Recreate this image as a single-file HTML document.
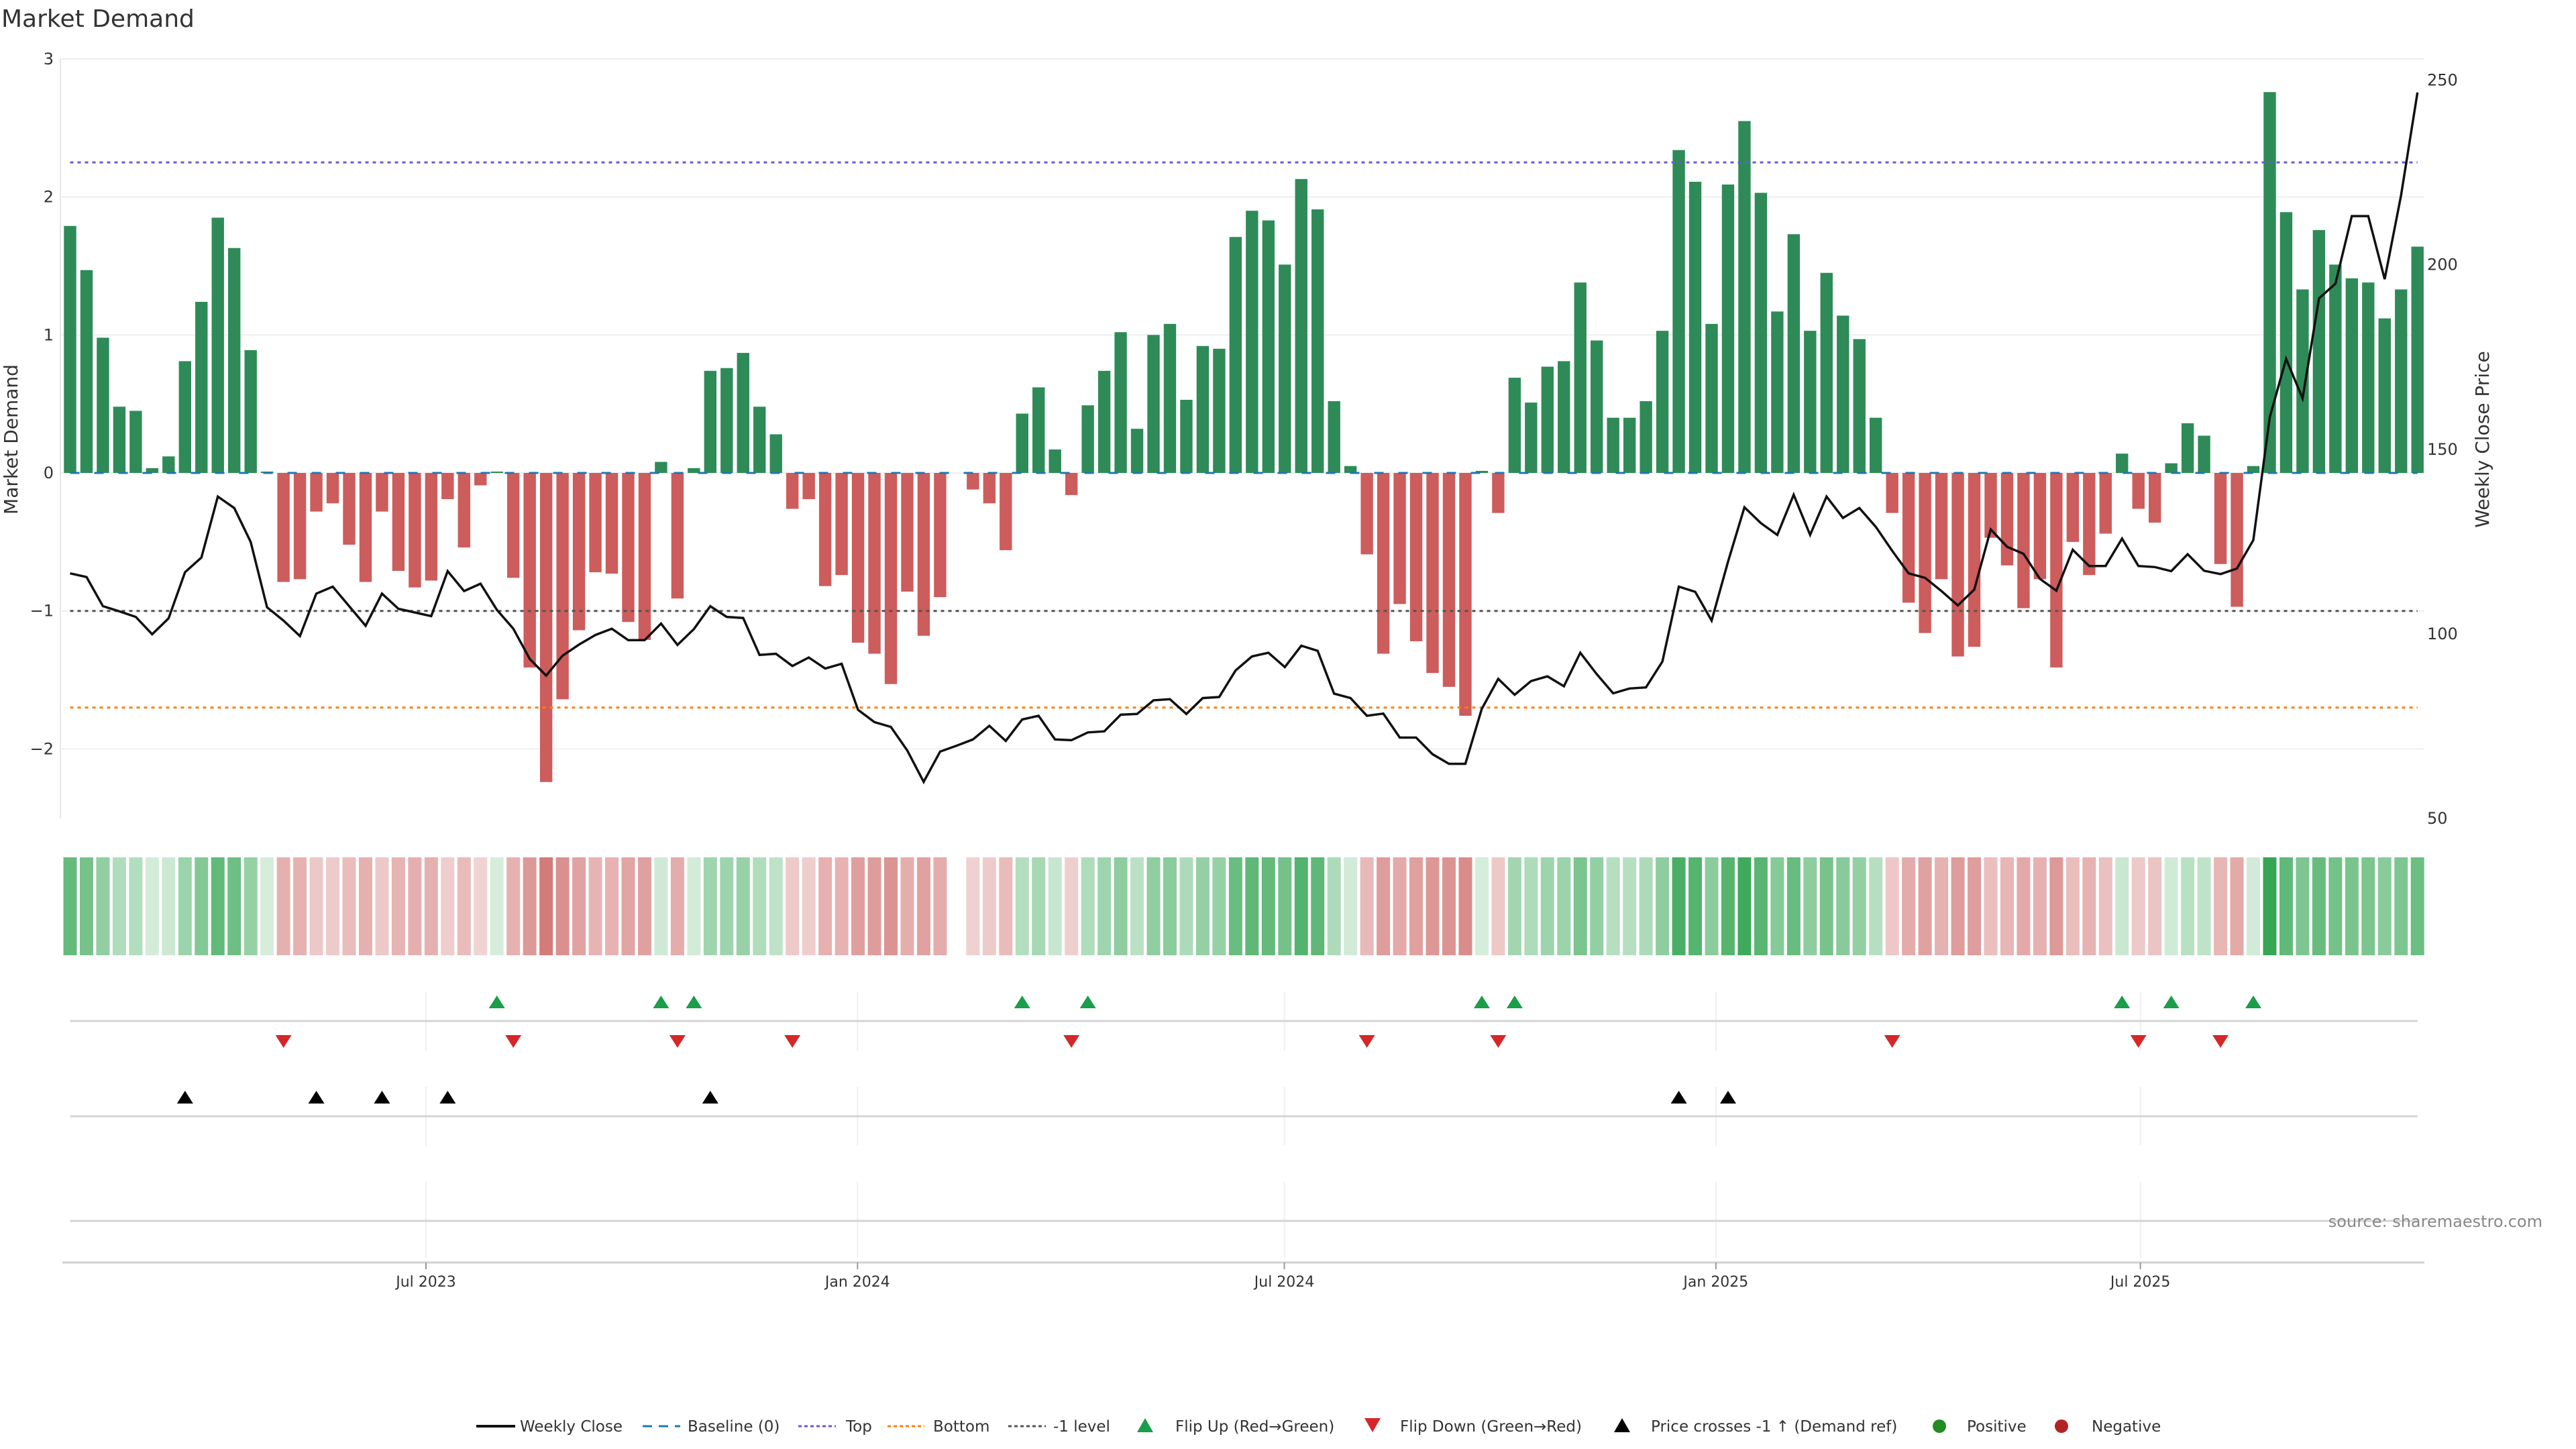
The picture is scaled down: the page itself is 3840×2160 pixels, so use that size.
<!DOCTYPE html>
<html><head><meta charset="utf-8"><title>Market Demand</title>
<style>
html,body{margin:0;padding:0;background:#fff;}
svg{display:block;font-family:"DejaVu Sans","Liberation Sans",sans-serif;}
</style></head>
<body>
<svg id="chart" width="3840" height="2160" viewBox="0 0 3840 2160" xmlns="http://www.w3.org/2000/svg">
<text x="2" y="40" font-size="36" fill="#333">Market Demand</text>
<g id="main"></g>
<g id="heat"></g>
<g id="markers"></g>
<g id="xaxis"></g>
<g id="legend"></g>
<text x="3790" y="1829" font-size="24" fill="#888" text-anchor="end">source: sharemaestro.com</text>
</svg>
<script>
const demand = [1.79,1.47,0.98,0.48,0.45,0.035,0.12,0.81,1.24,1.85,
1.63,0.89,0.01,-0.79,-0.77,-0.28,-0.22,-0.52,-0.79,-0.28,
-0.71,-0.83,-0.78,-0.19,-0.54,-0.09,0.01,-0.76,-1.41,-2.24,
-1.64,-1.14,-0.72,-0.73,-1.08,-1.21,0.08,-0.91,0.035,0.74,
0.76,0.87,0.48,0.28,-0.26,-0.19,-0.82,-0.74,-1.23,-1.31,
-1.53,-0.86,-1.18,-0.90,0,-0.12,-0.22,-0.56,0.43,0.62,
0.17,-0.16,0.49,0.74,1.02,0.32,1.00,1.08,0.53,0.92,
0.90,1.71,1.90,1.83,1.51,2.13,1.91,0.52,0.05,-0.59,
-1.31,-0.95,-1.22,-1.45,-1.55,-1.76,0.015,-0.29,0.69,0.51,
0.77,0.81,1.38,0.96,0.40,0.40,0.52,1.03,2.34,2.11,
1.08,2.09,2.55,2.03,1.17,1.73,1.03,1.45,1.14,0.97,
0.40,-0.29,-0.94,-1.16,-0.77,-1.33,-1.26,-0.47,-0.67,-0.98,
-0.77,-1.41,-0.50,-0.74,-0.44,0.14,-0.26,-0.36,0.07,0.36,
0.27,-0.66,-0.97,0.05,2.76,1.89,1.33,1.76,1.51,1.41,
1.38,1.12,1.33,1.64];
const price = [116.4,115.4,107.5,106.1,104.6,99.9,104.2,116.7,120.7,137.2,
134.1,124.9,107.2,103.6,99.4,110.9,112.8,107.5,102.2,110.9,
106.8,105.8,104.8,117.0,111.6,113.6,106.5,101.4,93.2,88.7,
94.1,97.1,99.7,101.4,98.3,98.3,102.8,97.0,101.3,107.5,
104.6,104.3,94.3,94.6,91.3,93.6,90.6,91.9,79.4,76.1,
74.8,68.4,59.9,68.1,69.7,71.4,75.1,71.0,76.8,77.8,
71.4,71.2,73.3,73.6,78.1,78.3,82.0,82.3,78.3,82.6,
82.9,90.1,93.9,94.9,91.0,96.8,95.4,83.8,82.6,77.8,
78.4,71.9,71.9,67.4,64.8,64.8,79.7,87.8,83.5,87.2,
88.5,85.8,94.9,89.1,83.9,85.2,85.5,92.5,112.8,111.4,
103.6,119.6,134.3,130.0,126.8,137.7,126.8,137.2,131.4,134.1,
129.0,122.5,116.4,115.2,111.6,107.7,112.0,128.3,123.6,121.7,
114.9,111.7,122.8,118.4,118.4,125.8,118.4,118.1,117.0,121.6,
117.1,116.2,117.7,125.4,158.7,174.5,163.8,190.9,194.9,213.2,
213.2,196.1,218.8,246.7];
const flipUp = [26,36,38,58,62,86,88,125,128,133];
const flipDown = [13,27,37,44,61,79,87,111,126,131];
const crossUp = [7,15,19,23,39,98,101];
const leftTicks = [3,2,1,0,-1,-2];
const leftTickLabels = ["3","2","1","0","\u22121","\u22122"];
const rightTicks = [250,200,150,100,50];
const dateTickWeeks = [21.68,47.97,73.97,100.26,126.12];
const dateTickLabels = ["Jul 2023","Jan 2024","Jul 2024","Jan 2025","Jul 2025"];
const levelTop = 2.25, levelBottom = -1.7, levelMinus1 = -1;

const NS = "http://www.w3.org/2000/svg";
const X0 = 104.5, STEP = 24.47, PL = 90, PR = 3614, PT = 88, PB = 1220;
const xs = i => X0 + i*STEP;
const yd = v => 705 - v*205.7;
const yp = p => PB - (p-50)*5.502;
function mk(tag, attrs, parent){const e=document.createElementNS(NS,tag);for(const k in attrs)e.setAttribute(k,attrs[k]);parent.appendChild(e);return e;}
const main=document.getElementById('main');
leftTicks.forEach((t,i)=>{
  const g=mk('line',{x1:PL,x2:PR,y1:yd(t),y2:yd(t),stroke:'#eceef0','stroke-width':2},main);
  
  
  const tx=mk('text',{x:80,y:yd(t)+8,'font-size':24,fill:'#333','text-anchor':'end'},main);
  tx.textContent=leftTickLabels[i];
  
  
});
mk('line',{x1:PL,x2:PL,y1:PT,y2:PB,stroke:'#e6e6e6','stroke-width':2},main);
rightTicks.forEach(t=>{
  const tx=mk('text',{x:3618,y:yp(t)+8,'font-size':24,fill:'#333'},main);
  tx.textContent=String(t);
  
  
});
let yt=mk('text',{x:0,y:0,'font-size':28,fill:'#333','text-anchor':'middle',transform:'translate(26,655) rotate(-90)'},main);
yt.textContent='Market Demand';


yt=mk('text',{x:0,y:0,'font-size':28,fill:'#333','text-anchor':'middle',transform:'translate(3710,655) rotate(-90)'},main);
yt.textContent='Weekly Close Price';


demand.forEach((v,i)=>{
  if(v===0) return;
  const y1=yd(Math.max(v,0)), y2=yd(Math.min(v,0));
  const b=mk('rect',{x:xs(i)-9.2,y:y1,width:18.4,height:Math.max(y2-y1,1.5),fill:v>0?'#2e8b57':'#cd5c5c'},main);
  
  
});
function hline(v,color,dash,name){
  const l=mk('line',{x1:xs(0),x2:xs(demand.length-1),y1:yd(v),y2:yd(v),stroke:color,'stroke-width':3,'stroke-dasharray':dash},main);
  
  
}
hline(0,'#1f77b4','14 22','baseline-zero');
hline(levelTop,'#6a5acd','5 6','top-level-line');
hline(levelBottom,'#ff7f0e','5 6','bottom-level-line');
hline(levelMinus1,'#555','5 6','minus-one-level-line');
const pts=price.map((p,i)=>xs(i).toFixed(1)+','+yp(p).toFixed(1)).join(' ');
const pl=mk('polyline',{points:pts,fill:'none',stroke:'#111','stroke-width':3.5,'stroke-linejoin':'miter'},main);


const heat=document.getElementById('heat');
function mix(a,b,t){return 'rgb('+a.map((c,k)=>Math.round(c+(b[k]-c)*t)).join(',')+')';}
demand.forEach((v,i)=>{
  if(v===0) return;
  const t=Math.min(Math.abs(v)/2.8,1);
  const col=v>0?mix([216,238,222],[52,165,82],Math.pow(t,0.8)):mix([243,218,218],[205,105,102],Math.pow(t,0.8));
  const c=mk('rect',{x:xs(i)-10,y:1278,width:20,height:146,fill:col},heat);
  
  
});
const mg=document.getElementById('markers');
const panels=[[1478,1567],[1620,1708],[1762,1875]];
dateTickWeeks.forEach(w=>{
  panels.forEach(p=>{mk('line',{x1:xs(w),x2:xs(w),y1:p[0],y2:p[1],stroke:'#eef0f2','stroke-width':2},mg);});
});
[1522,1664,1820].forEach(y=>{
  const l=mk('line',{x1:xs(0),x2:xs(demand.length-1),y1:y,y2:y,stroke:'#d4d4d4','stroke-width':3},mg);
  
  
});
function tri(x,y,up,color,name){
  const pts=up?[[x-12,y+9],[x+12,y+9],[x,y-10]]:[[x-12,y-9],[x+12,y-9],[x,y+10]];
  const t=mk('polygon',{points:pts.map(p=>p.join(',')).join(' '),fill:color},mg);
  
  
}
flipUp.forEach(i=>tri(xs(i),1494,true,'#1a9e4a','flip-up-marker'));
flipDown.forEach(i=>tri(xs(i),1552,false,'#d62728','flip-down-marker'));
crossUp.forEach(i=>tri(xs(i),1636,true,'#000','price-cross-marker'));
const xa=document.getElementById('xaxis');
mk('line',{x1:PL+3,x2:PR,y1:1882,y2:1882,stroke:'#d0d0d0','stroke-width':3},xa);
dateTickWeeks.forEach((w,i)=>{
  mk('line',{x1:xs(w),x2:xs(w),y1:1882,y2:1892,stroke:'#999','stroke-width':2},xa);
  const t=mk('text',{x:xs(w),y:1918,'font-size':22,fill:'#333','text-anchor':'middle'},xa);
  t.textContent=dateTickLabels[i];
  
  
});
const lg=document.getElementById('legend');
const LY=2134;
function ltext(x,s){const t=mk('text',{x:x,y:LY,'font-size':23,fill:'#333'},lg);t.textContent=s;return t;}
function lline(x1,x2,color,dash,w){mk('line',{x1:x1,x2:x2,y1:LY-8,y2:LY-8,stroke:color,'stroke-width':w,'stroke-dasharray':dash},lg);}
const items=[
 ['legend-weekly-close',()=>{lline(710,768,'#111','none',4);},775,'Weekly Close'],
 ['legend-baseline',()=>{lline(958,1014,'#1f77b4','14 10',3);},1025,'Baseline (0)'],
 ['legend-top',()=>{lline(1190,1246,'#6a5acd','5 4',3);},1261,'Top'],
 ['legend-bottom',()=>{lline(1323,1378,'#ff7f0e','5 4',3);},1391,'Bottom'],
 ['legend-minus-one',()=>{lline(1503,1559,'#555','5 4',3);},1570,'-1 level'],
 ['legend-flip-up',()=>{mk('polygon',{points:'1695,'+(LY+1)+' 1719,'+(LY+1)+' 1707,'+(LY-20),fill:'#1a9e4a'},lg);},1752,'Flip Up (Red\u2192Green)'],
 ['legend-flip-down',()=>{mk('polygon',{points:'2034,'+(LY-20)+' 2058,'+(LY-20)+' 2046,'+(LY+1),fill:'#d62728'},lg);},2087,'Flip Down (Green\u2192Red)'],
 ['legend-price-cross',()=>{mk('polygon',{points:'2406,'+(LY+1)+' 2430,'+(LY+1)+' 2418,'+(LY-20),fill:'#000'},lg);},2461,'Price crosses -1 \u2191 (Demand ref)'],
 ['legend-positive',()=>{mk('circle',{cx:2891,cy:LY-8,r:10,fill:'#228b22'},lg);},2932,'Positive'],
 ['legend-negative',()=>{mk('circle',{cx:3073,cy:LY-8,r:10,fill:'#b22222'},lg);},3118,'Negative']
];
items.forEach(it=>{
  it[1]();
  const t=ltext(it[2],it[3]);
  
  
});
</script>
</body></html>
